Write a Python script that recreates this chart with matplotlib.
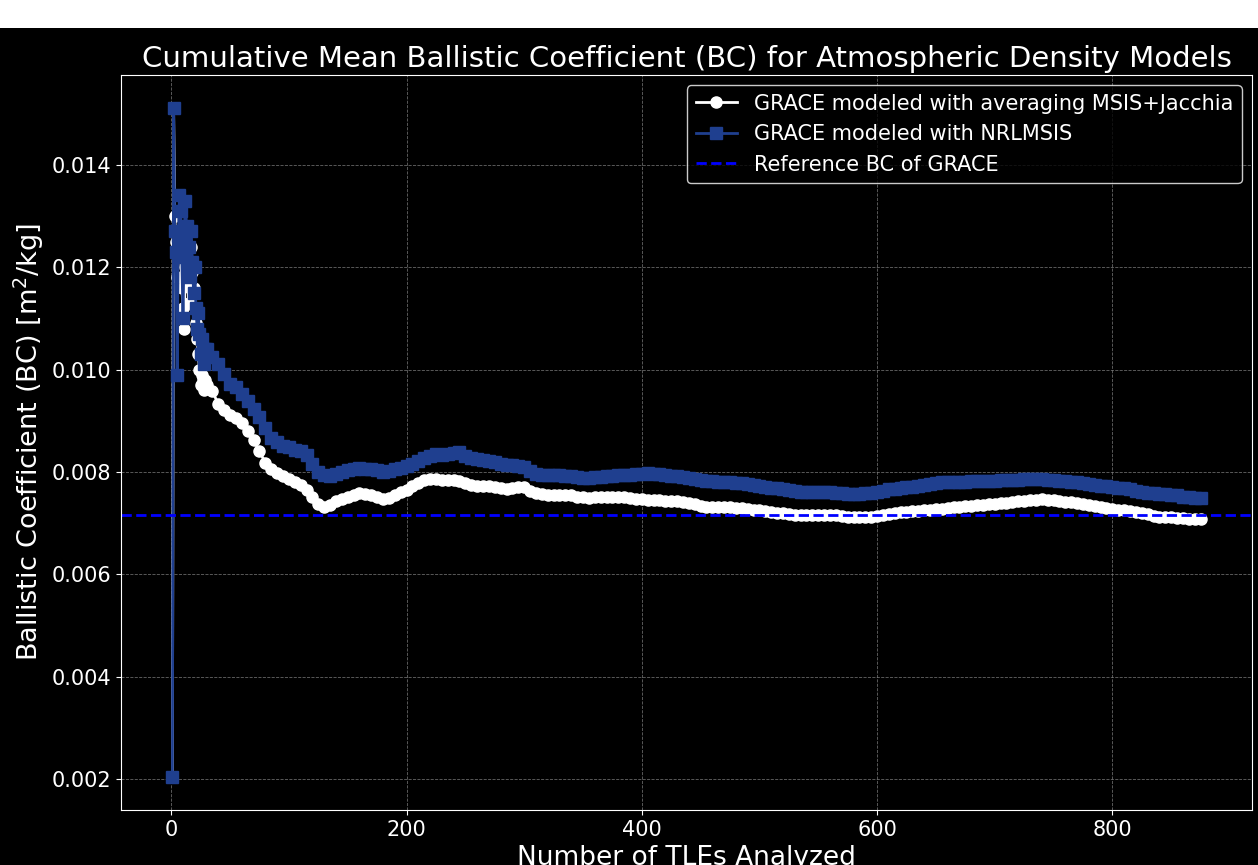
import numpy as np
import matplotlib
matplotlib.use("Agg")
import matplotlib.pyplot as plt
from matplotlib.patches import Rectangle

# ---------------- data ----------------
x_early = list(range(1, 30))
x_main = list(range(30, 876, 5))

msis_jacchia_early = [0.00205, 0.0151, 0.0130, 0.0125, 0.0118, 0.0122, 0.0127, 0.0124, 0.0116, 0.0112,
                      0.0108, 0.0120, 0.0124, 0.0118, 0.0113, 0.0121, 0.0124, 0.0119, 0.0116, 0.0112,
                      0.0109, 0.0106, 0.0103, 0.0100, 0.0097, 0.0099, 0.0098, 0.0096, 0.0098]
nrlmsis_early = [0.00205, 0.0151, 0.0127, 0.0123, 0.0099, 0.0126, 0.0134, 0.0131, 0.0122, 0.0110,
                 0.0125, 0.0133, 0.0128, 0.0120, 0.0124, 0.0118, 0.0127, 0.0121, 0.0115, 0.0120,
                 0.0112, 0.0108, 0.0111, 0.0107, 0.0103, 0.0106, 0.0104, 0.0101, 0.0104]

msis_jacchia_main = [
    0.00970, 0.00958, 0.00932, 0.00920, 0.00912, 0.00905, 0.00895, 0.00880, 0.00862, 0.00840,
    0.00818, 0.00805, 0.00797, 0.00792, 0.00786, 0.00780, 0.00774, 0.00765, 0.00752, 0.00738,
    0.00731, 0.00735, 0.00744, 0.00747, 0.00751, 0.00755, 0.00759, 0.00757, 0.00754, 0.00751,
    0.00748, 0.00749, 0.00755, 0.00760, 0.00765, 0.00772, 0.00778, 0.00784, 0.00787, 0.00786,
    0.00785, 0.00784, 0.00785, 0.00783, 0.00778, 0.00774, 0.00773, 0.00773, 0.00773, 0.00770,
    0.00768, 0.00767, 0.00769, 0.00771, 0.00770, 0.00763, 0.00758, 0.00757, 0.00755, 0.00754,
    0.00754, 0.00754, 0.00754, 0.00752, 0.00751, 0.00750, 0.00751, 0.00752, 0.00752, 0.00752,
    0.00752, 0.00751, 0.00750, 0.00748, 0.00747, 0.00746, 0.00745, 0.00745, 0.00744, 0.00744,
    0.00743, 0.00742, 0.00740, 0.00737, 0.00734, 0.00732, 0.00731, 0.00731, 0.00731, 0.00731,
    0.00730, 0.00729, 0.00727, 0.00726, 0.00725, 0.00724, 0.00722, 0.00720, 0.00719, 0.00717,
    0.00716, 0.00716, 0.00716, 0.00716, 0.00716, 0.00716, 0.00716, 0.00715, 0.00713, 0.00712,
    0.00712, 0.00712, 0.00712, 0.00712, 0.00713, 0.00716, 0.00718, 0.00719, 0.00721, 0.00722,
    0.00723, 0.00724, 0.00725, 0.00726, 0.00727, 0.00728, 0.00730, 0.00731, 0.00732, 0.00733,
    0.00734, 0.00735, 0.00736, 0.00737, 0.00738, 0.00739, 0.00740, 0.00741, 0.00743, 0.00744,
    0.00745, 0.00746, 0.00747, 0.00746, 0.00745, 0.00744, 0.00742, 0.00741, 0.00740, 0.00737,
    0.00735, 0.00733, 0.00731, 0.00729, 0.00728, 0.00726, 0.00725, 0.00723, 0.00721, 0.00719,
    0.00717, 0.00714, 0.00712, 0.00712, 0.00712, 0.00711, 0.00710, 0.00709, 0.00709, 0.00709]

nrlmsis_main = [
    0.01040, 0.01025, 0.01010, 0.00992, 0.00971, 0.00965, 0.00953, 0.00938, 0.00922, 0.00908,
    0.00885, 0.00866, 0.00858, 0.00851, 0.00848, 0.00843, 0.00840, 0.00834, 0.00815, 0.00800,
    0.00795, 0.00793, 0.00796, 0.00799, 0.00803, 0.00806, 0.00808, 0.00806, 0.00806, 0.00803,
    0.00800, 0.00802, 0.00806, 0.00808, 0.00812, 0.00816, 0.00822, 0.00828, 0.00832, 0.00835,
    0.00834, 0.00836, 0.00837, 0.00838, 0.00832, 0.00827, 0.00825, 0.00824, 0.00822, 0.00819,
    0.00816, 0.00814, 0.00813, 0.00811, 0.00809, 0.00802, 0.00796, 0.00794, 0.00794, 0.00794,
    0.00794, 0.00793, 0.00793, 0.00791, 0.00789, 0.00788, 0.00790, 0.00791, 0.00792, 0.00793,
    0.00794, 0.00794, 0.00795, 0.00796, 0.00796, 0.00797, 0.00796, 0.00796, 0.00795, 0.00793,
    0.00792, 0.00790, 0.00788, 0.00786, 0.00784, 0.00783, 0.00782, 0.00781, 0.00781, 0.00780,
    0.00779, 0.00778, 0.00776, 0.00774, 0.00772, 0.00770, 0.00769, 0.00768, 0.00767, 0.00764,
    0.00762, 0.00760, 0.00760, 0.00760, 0.00760, 0.00760, 0.00760, 0.00759, 0.00758, 0.00757,
    0.00757, 0.00756, 0.00758, 0.00759, 0.00761, 0.00763, 0.00766, 0.00767, 0.00769, 0.00770,
    0.00771, 0.00773, 0.00775, 0.00777, 0.00778, 0.00780, 0.00780, 0.00780, 0.00780, 0.00781,
    0.00782, 0.00782, 0.00782, 0.00783, 0.00783, 0.00784, 0.00784, 0.00785, 0.00785, 0.00786,
    0.00786, 0.00786, 0.00786, 0.00785, 0.00784, 0.00783, 0.00782, 0.00781, 0.00780, 0.00778,
    0.00777, 0.00775, 0.00773, 0.00772, 0.00770, 0.00769, 0.00768, 0.00766, 0.00763, 0.00760,
    0.00759, 0.00758, 0.00757, 0.00756, 0.00755, 0.00754, 0.00752, 0.00751, 0.00750, 0.00750]

reference_bc = 0.00716

label_avg = "GRACE modeled with averaging MSIS+Jacchia"
label_nrl = "GRACE modeled with NRLMSIS"
label_ref = "Reference BC of GRACE"

# ---------------- plot ----------------
plt.style.use("dark_background")
plt.rcParams['font.family'] = ['DejaVu Sans']

fig = plt.figure(figsize=(12.58, 8.65), dpi=100)
W, H = 1258, 865
ax = fig.add_axes([121 / W, 1 - 810 / H, (1252 - 121) / W, (810 - 75) / H])

x_all = x_early + x_main
avg_all = msis_jacchia_early + msis_jacchia_main
nrl_all = nrlmsis_early + nrlmsis_main

ax.plot(x_all, avg_all, color='white', marker='o', markersize=8, linewidth=2, label=label_avg)
ax.plot(x_all, nrl_all, color='#1f3f8f', marker='s', markersize=8, linewidth=2, label=label_nrl)
ax.axhline(reference_bc, color='blue', linestyle='--', linewidth=2, label=label_ref)

ax.set_title("Cumulative Mean Ballistic Coefficient (BC) for Atmospheric Density Models", fontsize=21)
ax.set_xlabel("Number of TLEs Analyzed", fontsize=19)
ax.set_ylabel("Ballistic Coefficient (BC) [m$^2$/kg]", fontsize=19.5)
ax.tick_params(labelsize=15)
ax.grid(True, linestyle='--', linewidth=0.6, color='gray', alpha=0.8)
ax.legend(loc='upper right', fontsize=15, facecolor='black', edgecolor='white')

fig.add_artist(Rectangle((0, 1 - 28 / H), 1, 28 / H, transform=fig.transFigure,
                         facecolor='white', edgecolor='none', zorder=10))

fig.savefig("out.png", dpi=100)
